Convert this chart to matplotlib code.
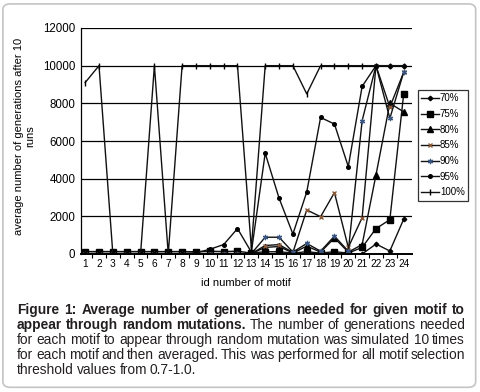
import numpy as np
import matplotlib
matplotlib.use('Agg')
from matplotlib import pyplot as plt
from matplotlib.patches import FancyBboxPatch

plt.rcParams['font.family'] = 'Liberation Sans'

motif_ids = list(range(1, 25))

# (generations, capped at 10000)
p70 = [20, 20, 20, 20, 20, 20, 20, 20, 20, 20, 20, 20, 20, 20, 20, 20, 20, 20, 20, 20, 0, 530, 160, 1850]
p75 = [130, 130, 130, 130, 130, 130, 130, 130, 120, 150, 130, 150, 50, 120, 120, 50, 120, 50, 120, 50, 350, 1350, 1820, 8500]
p80 = [20, 20, 20, 20, 20, 20, 20, 20, 20, 20, 20, 20, 20, 350, 400, 50, 420, 100, 850, 100, 500, 4200, 8000, 7550]
p85 = [20, 20, 20, 20, 20, 20, 20, 20, 20, 20, 20, 20, 20, 450, 500, 80, 2340, 1980, 3260, 350, 1930, 10000, 7800, 9650]
p90 = [20, 20, 20, 20, 20, 20, 20, 20, 20, 20, 20, 20, 20, 890, 890, 100, 560, 150, 950, 150, 7080, 10000, 7200, 9650]
p95 = [20, 20, 20, 20, 20, 20, 20, 20, 60, 250, 500, 1350, 100, 5350, 2970, 1060, 3290, 7250, 6900, 4640, 8900, 10000, 10000, 10000]
p100 = [9100, 10000, 0, 0, 0, 10000, 0, 10000, 10000, 10000, 10000, 10000, 300, 10000, 10000, 10000, 8500, 10000, 10000, 10000, 10000, 10000, 10000, 10000]

series_labels = ['70%', '75%', '80%', '85%', '90%', '95%', '100%']

fig = plt.figure(figsize=(4.8, 3.92), dpi=100)

# rounded frame round the whole figure
frame = FancyBboxPatch((0.006, 0.012), 0.985, 0.978, boxstyle='round,pad=0,rounding_size=0.015',
                       transform=fig.transFigure, fill=False, ec='#c4c4c4', lw=1.2)
fig.patches.append(frame)

ax = fig.add_axes([81 / 480, 1 - 254 / 392, (412 - 81) / 480, (254 - 28) / 392])

styles = [
    dict(marker='D', ms=2.3, mfc='black', mec='black'),
    dict(marker='s', ms=4.6, mfc='black', mec='black'),
    dict(marker='^', ms=3.8, mfc='black', mec='black'),
    dict(marker='x', ms=3.5, mec='#8a5a3a', mew=1.0),
    dict(marker=(6, 2, 0), ms=3.8, mec='#3a5580', mew=0.9),
    dict(marker='o', ms=2.6, mfc='black', mec='black'),
    dict(marker='|', ms=4.5, mec='black', mew=1.0),
]
all_series = [p70, p75, p80, p85, p90, p95, p100]
handles = []
for vals, lab, st in zip(all_series, series_labels, styles):
    h, = ax.plot(motif_ids, vals, color='#111111', lw=1.0, label=lab, **st)
    handles.append(h)

ax.set_ylim(0, 12000)
ax.set_xlim(0.7, 24.6)
ax.set_yticks(range(0, 12001, 2000))
ax.set_xticks(motif_ids)
ax.set_xticklabels([str(i) for i in motif_ids], fontsize=7.3)
ax.tick_params(axis='y', labelsize=8.3, length=0, pad=4)
ax.tick_params(axis='x', length=0, pad=3.5)
ax.set_xticks(np.arange(1.5, 24.5, 1), minor=True)
ax.tick_params(axis='x', which='minor', length=3, direction='out', width=0.8)
ax.grid(axis='y', color='black', lw=0.9)
ax.set_axisbelow(True)
for s in ['top', 'right']:
    ax.spines[s].set_visible(False)
ax.spines['left'].set_linewidth(0.9)
ax.spines['bottom'].set_linewidth(1.4)

leg = ax.legend(handles=handles, loc='upper left', bbox_to_anchor=(418 / 480, 1 - 90 / 392),
                bbox_transform=fig.transFigure, fontsize=7, frameon=True, fancybox=False,
                handlelength=1.8, handletextpad=0.1, labelspacing=0.58, borderpad=0.35,
                borderaxespad=0)
leg.get_frame().set_edgecolor('black')
leg.get_frame().set_linewidth(0.9)

fig.text(246 / 480, 1 - 283 / 392, 'id number of motif', ha='center', va='center', fontsize=8)
fig.text(25 / 480, 1 - 136 / 392, 'average number of generations after 10\nruns', rotation=90,
         ha='center', va='center', multialignment='center', fontsize=8, linespacing=1.15)

# caption, justified word by word like the journal layout
cap_lines = [
    ([('Figure 1: Average number of generations needed for given motif to', 'bold')], True),
    ([('appear through random mutations.', 'bold'), ('The number of generations needed', 'normal')], True),
    ([('for each motif to appear through random mutation was simulated 10 times', 'normal')], True),
    ([('for each motif and then averaged. This was performed for all motif selection', 'normal')], True),
    ([('threshold values from 0.7-1.0.', 'normal')], False),
]
cap_size = 9.9
x_left, x_right = 17, 465
baselines = [314, 329, 344, 359, 374]
space_w = 2.9

renderer = fig.canvas.get_renderer()
for (parts, justify), yb in zip(cap_lines, baselines):
    words = []
    for text, weight in parts:
        for w in text.split(' '):
            words.append((w, weight))
    objs = []
    widths = []
    for w, weight in words:
        t = fig.text(0, 1 - yb / 392, w, fontsize=cap_size, fontweight=weight,
                     ha='left', va='baseline', color='#231f20')
        objs.append(t)
        widths.append(t.get_window_extent(renderer).width)
    if justify and len(words) > 1:
        gap = (x_right - x_left - sum(widths)) / (len(words) - 1)
    else:
        gap = space_w
    x = x_left
    for t, wd in zip(objs, widths):
        t.set_x(x / 480)
        x += wd + gap

fig.savefig('out.png', dpi=100)
